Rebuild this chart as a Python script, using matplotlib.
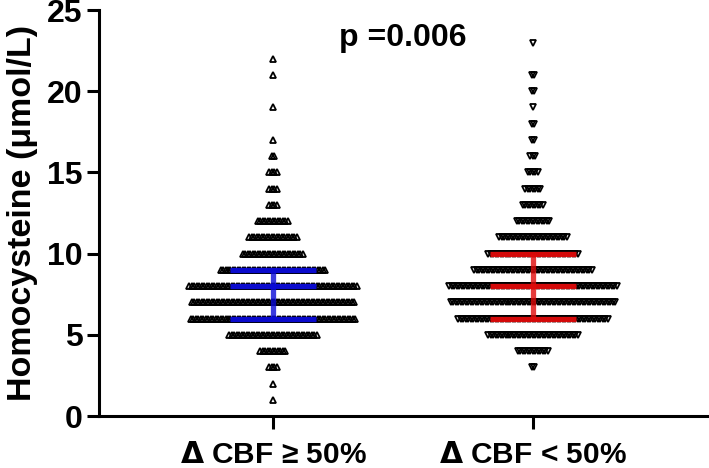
import numpy as np
import matplotlib.pyplot as plt

plt.rcParams['font.family'] = ['Liberation Sans', 'DejaVu Sans']
plt.rcParams['font.weight'] = 'bold'
plt.rcParams['mathtext.fontset'] = 'dejavusans'

# values (umol/L) and number of subjects at each value
values_hi = [1, 2, 3, 4, 5, 6, 7, 8, 9, 10, 11, 12, 13, 14, 15, 16, 17, 19, 21, 22]
counts_hi = [1, 1, 4, 11, 36, 67, 66, 68, 43, 25, 20, 13, 4, 4, 4, 2, 1, 1, 1, 1]

values_lo = [3, 4, 5, 6, 7, 8, 9, 10, 11, 12, 13, 14, 15, 16, 17, 18, 19, 20, 21, 23]
counts_lo = [2, 13, 37, 61, 67, 68, 48, 37, 28, 14, 9, 7, 5, 3, 2, 2, 1, 2, 2, 1]

groups = ['$\\Delta$ CBF \u2265 50%', '$\\Delta$ CBF < 50%']
markers = ['^', 'v']
bar_colors = ['#0a0ad8', '#e00a0a']
p_text = 'p =0.006'

fig = plt.figure(figsize=(7.09, 4.68), dpi=100)
ax = fig.add_axes([0.1396, 0.111, 0.8604, 0.8675])

step = 0.0096  # horizontal spacing of points within a row

for gi, (vals, cnts) in enumerate([(values_hi, counts_hi), (values_lo, counts_lo)]):
    xc = gi + 1
    xs, ys = [], []
    for v, n in zip(vals, cnts):
        off = (np.arange(n) - (n - 1) / 2) * step
        xs.extend(xc + off)
        ys.extend([v] * n)
    ax.plot(xs, ys, linestyle='none', marker=markers[gi], ms=4.0,
            mfc='none', mec='black', mew=1.3, zorder=2)

    data = np.repeat(vals, cnts)
    q1, med, q3 = np.percentile(data, [25, 50, 75])
    hw = 0.165
    for yv in (q1, med, q3):
        ax.plot([xc - hw, xc + hw], [yv, yv], color=bar_colors[gi], lw=3.8,
                alpha=0.95, solid_capstyle='butt', zorder=3)
    ax.plot([xc, xc], [q1, q3], color=bar_colors[gi], lw=3.8, alpha=0.8,
            solid_capstyle='butt', zorder=3)

ax.set_xlim(0.331, 2.677)
ax.set_ylim(0, 25)
ax.set_yticks([0, 5, 10, 15, 20, 25])
ax.set_xticks([1, 2])
ax.set_xticklabels(groups, fontsize=21.5, fontweight='bold')
ax.tick_params(axis='y', labelsize=23, width=2.2, length=9, pad=3)
ax.tick_params(axis='x', width=2.2, length=9, pad=9)
for lab in ax.get_yticklabels():
    lab.set_fontweight('bold')

ax.spines['top'].set_visible(False)
ax.spines['right'].set_visible(False)
ax.spines['left'].set_linewidth(2.2)
ax.spines['bottom'].set_linewidth(2.2)

ax.set_ylabel('Homocysteine (μmol/L)', fontsize=24.5, fontweight='bold', labelpad=6)

ax.text(1.5, 23.3, p_text, fontsize=23, fontweight='bold', ha='center', va='center')

fig.savefig('out.png', dpi=100)
